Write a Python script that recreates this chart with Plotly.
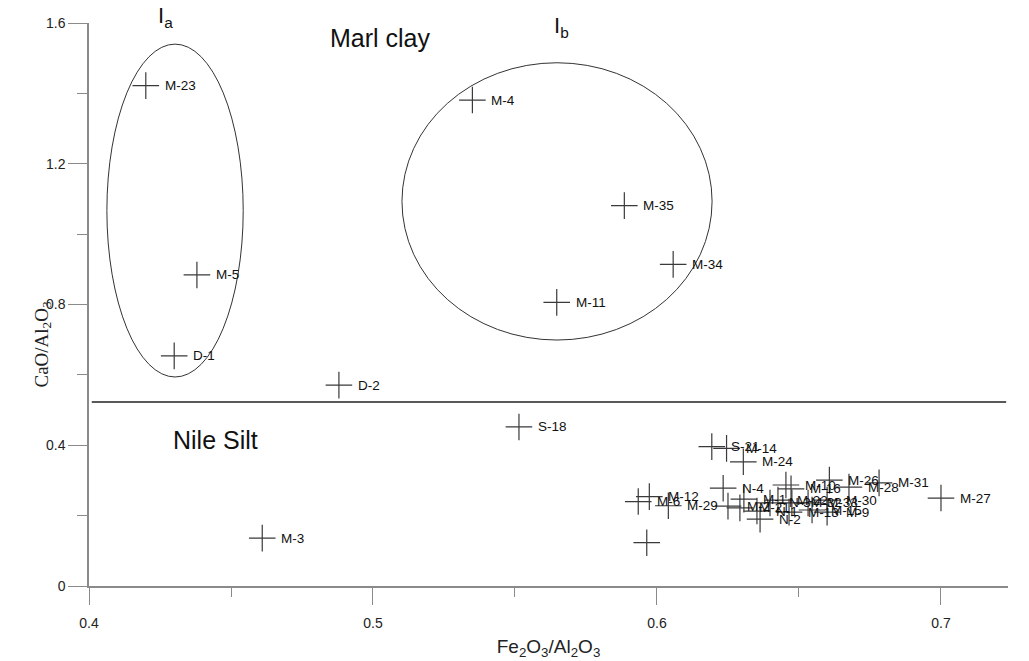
import plotly.graph_objects as go

# sample labels and ratios
labels = ["M-23", "M-5", "D-1", "D-2", "M-4", "M-35", "M-34", "M-11", "S-18", "M-3",
          "S-21", "M-14", "M-24", "N-4", "M-12", "M-6", "M-29", "",
          "M-1", "M-2", "M-21", "N-1", "N-3", "M-22", "M-10", "M-16", "M-32", "M-13",
          "N-2", "M-33", "M-15", "M-30", "M-9", "M-26", "M-28", "M-31", "M-27"]
fe_al = [0.420, 0.438, 0.430, 0.488, 0.535, 0.5885, 0.6057, 0.5647, 0.5514, 0.461,
         0.6193, 0.6245, 0.6304, 0.6233, 0.5973, 0.5934, 0.604, 0.5964,
         0.6306, 0.625, 0.6292, 0.6352, 0.6398, 0.6426, 0.6454, 0.6472, 0.6475, 0.6465,
         0.6363, 0.6532, 0.6546, 0.6599, 0.6599, 0.6607, 0.6676, 0.6782, 0.700]
ca_al = [1.422, 0.884, 0.654, 0.571, 1.381, 1.081, 0.914, 0.806, 0.452, 0.136,
         0.396, 0.391, 0.353, 0.278, 0.254, 0.240, 0.228, 0.123,
         0.247, 0.227, 0.222, 0.213, 0.236, 0.244, 0.287, 0.276, 0.236, 0.210,
         0.190, 0.236, 0.216, 0.244, 0.210, 0.301, 0.281, 0.293, 0.250]

# group ellipses (center x, center y, half-width, half-height)
groups = ["I<sub>a</sub>", "I<sub>b</sub>"]
ell_cx = [0.4303, 0.5648]
ell_cy = [1.067, 1.093]
ell_rx = [0.0240, 0.0546]
ell_ry = [0.473, 0.394]

region_names = ["Marl clay", "Nile Silt"]
x_title = "Fe<sub>2</sub>O<sub>3</sub>/Al<sub>2</sub>O<sub>3</sub>"
y_title = "CaO/Al<sub>2</sub>O<sub>3</sub>"

boundary_y = 0.523
x_range = [0.4, 0.7236]
y_range = [0, 1.6]

fig = go.Figure()
fig.add_trace(go.Scatter(
    x=fe_al, y=ca_al, mode="markers",
    marker=dict(symbol="cross-thin-open", size=19, color="#3a3a3a",
                line=dict(color="#3a3a3a", width=1.2)),
    hovertext=labels, showlegend=False,
))

annotations = []
for lab, xv, yv in zip(labels, fe_al, ca_al):
    if lab:
        annotations.append(dict(x=xv, y=yv, xref="x", yref="y", text=lab,
                                showarrow=False, xanchor="left", yanchor="middle",
                                xshift=17, yshift=0,
                                font=dict(family="Liberation Sans, Arial", size=13.5, color="#111")))

annotations += [
    dict(x=0.4303, y=1.011, xref="x", yref="paper", text=groups[0], showarrow=False,
         xanchor="center", yanchor="middle", xshift=-10,
         font=dict(family="Liberation Sans, Arial", size=22, color="#111")),
    dict(x=0.5648, y=0.993, xref="x", yref="paper", text=groups[1], showarrow=False,
         xanchor="center", yanchor="middle", xshift=4,
         font=dict(family="Liberation Sans, Arial", size=22, color="#111")),
    dict(x=0.5025, y=1.557, xref="x", yref="y", text=region_names[0], showarrow=False,
         xanchor="center", yanchor="middle",
         font=dict(family="Liberation Sans, Arial", size=25, color="#111")),
    dict(x=0.4445, y=0.415, xref="x", yref="y", text=region_names[1], showarrow=False,
         xanchor="center", yanchor="middle",
         font=dict(family="Liberation Sans, Arial", size=25, color="#111")),
    dict(x=0, y=0.5, xref="paper", yref="paper", text=y_title, showarrow=False,
         textangle=-90, xanchor="center", yanchor="middle", xshift=-47, yshift=-40,
         font=dict(family="Liberation Serif, Times New Roman, serif", size=19, color="#222")),
]

shapes = []
for cx, cy, rx, ry in zip(ell_cx, ell_cy, ell_rx, ell_ry):
    shapes.append(dict(type="circle", xref="x", yref="y",
                       x0=cx - rx, x1=cx + rx, y0=cy - ry, y1=cy + ry,
                       line=dict(color="#333", width=1)))
shapes.append(dict(type="line", xref="paper", yref="y", x0=0.003, x1=0.998,
                   y0=boundary_y, y1=boundary_y, line=dict(color="#222", width=1.6)))

fig.update_layout(
    width=1029, height=661,
    margin=dict(l=89, r=21, t=23, b=75),
    paper_bgcolor="white", plot_bgcolor="white",
    shapes=shapes, annotations=annotations,
    font=dict(family="Liberation Sans, Arial", color="#111"),
)
fig.update_xaxes(
    automargin=False,
    range=x_range, dtick=0.1, tick0=0.4, showgrid=False, zeroline=False,
    showline=True, linecolor="#8a8a8a", linewidth=1.5,
    ticks="outside", ticklen=17, tickwidth=1.2, tickcolor="#8a8a8a",
    minor=dict(dtick=0.05, ticks="outside", ticklen=9, tickwidth=1.2, tickcolor="#8a8a8a"),
    tickfont=dict(family="Liberation Sans Narrow, Arial Narrow, Liberation Sans", size=14, color="#222"),
    ticklabelstandoff=6,
    title=dict(text=x_title,
               font=dict(family="Liberation Sans Narrow, Arial Narrow, Liberation Sans", size=19, color="#222"),
               standoff=10),
)
fig.update_yaxes(
    automargin=False,
    range=y_range, dtick=0.4, tick0=0, showgrid=False, zeroline=False,
    showline=True, linecolor="#8a8a8a", linewidth=1.5,
    ticks="outside", ticklen=19, tickwidth=1.2, tickcolor="#8a8a8a",
    minor=dict(dtick=0.2, ticks="outside", ticklen=10, tickwidth=1.2, tickcolor="#8a8a8a"),
    tickfont=dict(family="Liberation Sans, Arial", size=14, color="#222"),
    tickformat="~g",
)

fig.write_html("out.html")
